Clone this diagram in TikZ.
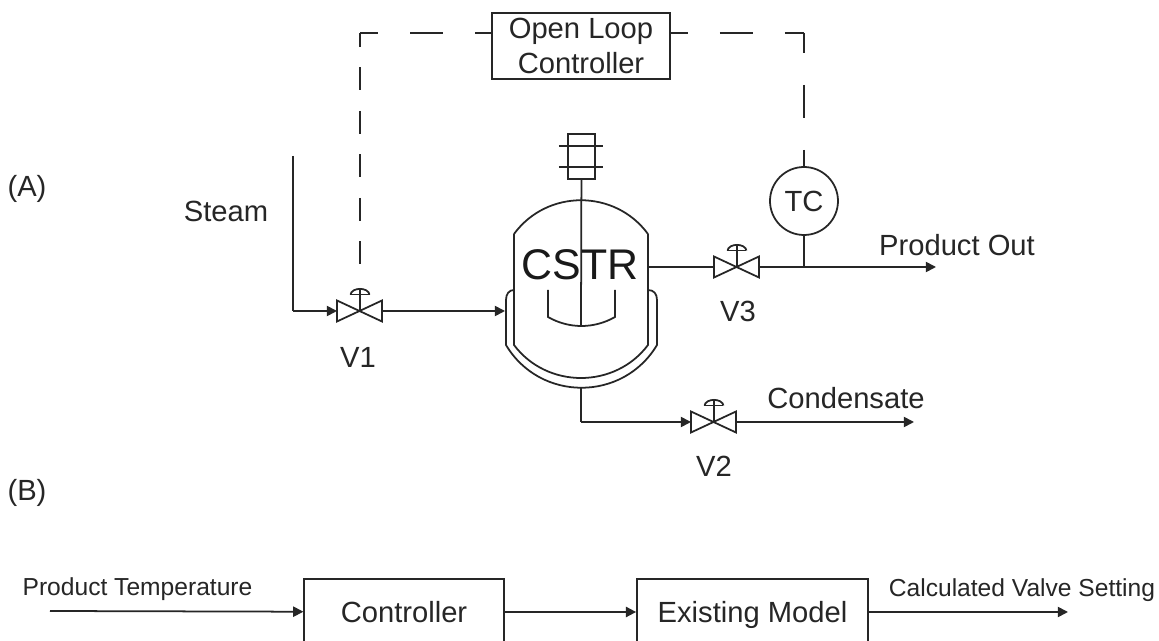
\documentclass[tikz,border=0pt]{standalone}
\usepackage{fontspec}
\setmainfont{Liberation Sans}
\usetikzlibrary{arrows.meta,positioning,calc}
\tikzstyle{pipe} = [line width=.5pt,black!85]
\tikzstyle{flow} = [pipe,-{Triangle[length=2.9pt,width=2.9pt]}]
\tikzstyle{signalh} = [pipe,dash pattern=on .33cm off .32cm]
\tikzstyle{signalv} = [pipe,dash pattern=on .23cm off .205cm]
\tikzstyle{lbl} = [inner sep=0,black!85,font=\fontsize{8.3pt}{10pt}\selectfont,align=center]
\tikzstyle{small} = [inner sep=0,black!85,font=\fontsize{7pt}{8.5pt}\selectfont]
\tikzstyle{blk} = [pipe,draw,rectangle,inner sep=0,text=black!85,font=\fontsize{8.3pt}{10pt}\selectfont,minimum height=.66cm,text height=6pt,text depth=0pt]

\begin{document}
\begin{tikzpicture}
        \clip (0,0) rectangle (11.59,-6.41);
        \fill[white] (0,0) rectangle (11.59,-6.41);

        % valves
        \foreach \n/\x/\y in {v1/3.60/-3.11,v2/7.14/-4.22,v3/7.37/-2.67} {
            \coordinate (\n) at (\x,\y);
            \coordinate (\n-in) at ($(\n)+(-.23,0)$);
            \coordinate (\n-out) at ($(\n)+(.22,0)$);
            \draw[pipe] (\n-in) to ($(\n-in)+(0,.105)$) to ($(\n-out)+(0,-.105)$) to ($(\n-out)+(0,.105)$) to ($(\n-in)+(0,-.105)$) to (\n-in);
            \draw[pipe] (\n) to ($(\n)+(0,.22)$);
            \draw[pipe] ($(\n)+(-.095,.165)$) to ($(\n)+(.095,.165)$);
            \draw[pipe] ($(\n)+(-.095,.165)$) .. controls ($(\n)+(-.08,.24)$) and ($(\n)+(.08,.24)$) .. ($(\n)+(.095,.165)$);
        }
        \coordinate (v1stem) at (3.60,-2.80);

        % vessel
        \draw[pipe] (5.14,-2.34) .. controls (5.47,-1.89) and (6.15,-1.89) .. (6.48,-2.34);
        \draw[pipe] (5.14,-2.34) to (5.14,-3.45) .. controls (5.47,-3.89) and (6.15,-3.89) .. (6.48,-3.45) to (6.48,-2.34);
        % jacket
        \draw[pipe] (5.14,-2.90) .. controls (5.09,-2.90) and (5.06,-2.94) .. (5.06,-3.00) to (5.06,-3.45) .. controls (5.40,-4.02) and (6.23,-4.02) .. (6.57,-3.45) to (6.57,-3.00) .. controls (6.57,-2.94) and (6.54,-2.90) .. (6.48,-2.90);
        \coordinate (jacketin) at (5.05,-3.11);
        \coordinate (jacketout) at (5.81,-3.88);
        \coordinate (vesselout) at (6.48,-2.67);

        % agitator
        \node[pipe,draw,rectangle,minimum width=.27cm,minimum height=.45cm,inner sep=0] (motor) at (5.815,-1.565) {};
        \draw[pipe] (5.59,-1.46) to (6.03,-1.46) (5.59,-1.67) to (6.03,-1.67);
        \coordinate (shaftend) at (5.81,-3.26);
        \draw[pipe] (motor) to (shaftend);
        \draw[pipe] (5.48,-2.90) to (5.48,-3.17) .. controls (5.69,-3.29) and (5.94,-3.29) .. (6.15,-3.17) to (6.15,-2.90);
        \node[inner sep=0,black!90,font=\fontsize{12.2pt}{14pt}\selectfont] (cstr) at (5.80,-2.65) {CSTR};

        % steam and product lines
        \coordinate (steamin) at (2.93,-1.56);
        \coordinate (steamturn) at (2.93,-3.11);
        \draw[pipe] (steamin) to (steamturn);
        \draw[flow] (steamturn) to (v1-in);
        \draw[flow] (v1-out) to (jacketin);
        \coordinate (condturn) at (5.81,-4.22);
        \draw[pipe] (jacketout) to (condturn);
        \draw[flow] (condturn) to (v2-in);
        \coordinate (condend) at (9.14,-4.22);
        \draw[flow] (v2-out) to (condend);
        \draw[pipe] (vesselout) to (v3-in);
        \coordinate (prodend) at (9.36,-2.67);
        \draw[flow] (v3-out) to (prodend);

        % control loop
        \node[lbl,pipe,draw,rectangle,text=black!85,minimum width=1.78cm,minimum height=.66cm] (olc) at (5.81,-.46) {Open Loop\\Controller};
        \node[lbl,pipe,draw,circle,text=black!85,minimum size=.68cm] (tc) at (8.04,-2.01) {TC};
        \coordinate (tee) at (8.04,-2.67);
        \draw[pipe] (tc) to (tee);
        \coordinate (cornerl) at (3.60,-.33);
        \coordinate (cornerr) at (8.04,-.33);
        \draw[signalv,dash phase=.09cm] (cornerl) to (v1stem);
        \draw[signalh,dash phase=.15cm] (cornerl) to (olc.west |- cornerl);
        \draw[signalh,dash phase=.16cm] (olc.east |- cornerr) to (cornerr);
        \draw[signalh,dash phase=.13cm] (cornerr) to (tc.north);

        % labels
        \node[lbl] (tagA) at (.27,-1.89) {(A)};
        \node[lbl] (tagB) at (.27,-4.93) {(B)};
        \node[lbl] (steam) at (2.26,-2.11) {Steam};
        \node[lbl] (v1lbl) at (3.58,-3.57) {V1};
        \node[lbl] (v2lbl) at (7.14,-4.66) {V2};
        \node[lbl] (v3lbl) at (7.38,-3.11) {V3};
        \node[lbl] (prod) at (9.57,-2.45) {Product Out};
        \node[lbl] (cond) at (8.46,-3.98) {Condensate};

        % block diagram
        \coordinate (tempin) at (.50,-6.11);
        \node[blk,minimum width=1.995cm] (ctrl) at (4.04,-6.12) {Controller};
        \node[blk,minimum width=2.31cm] (model) at (7.525,-6.12) {Existing Model};
        \coordinate (valveout) at (10.68,-6.12);
        \draw[flow] (tempin) to (ctrl);
        \draw[flow] (ctrl) to (model);
        \draw[flow] (model) to (valveout);
        \node[small] (temp) at (1.375,-5.89) {Product Temperature};
        \node[small] (setting) at (10.22,-5.90) {Calculated Valve Setting};
    \end{tikzpicture}
\end{document}
